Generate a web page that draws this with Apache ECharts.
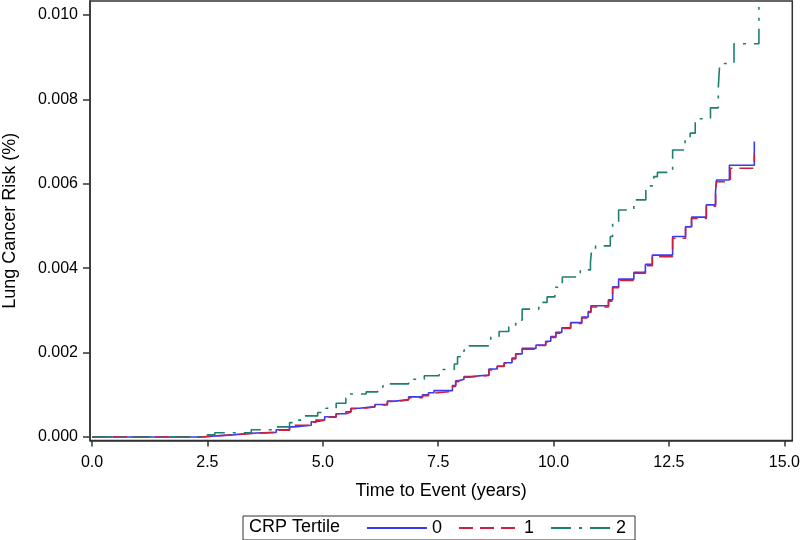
<!DOCTYPE html>
<html>
<head>
<meta charset="utf-8">
<script src="https://cdn.jsdelivr.net/npm/echarts@6/dist/echarts.min.js"></script>
<style>
html,body{margin:0;padding:0;background:#fff;}
#chart{width:800px;height:540px;}
</style>
</head>
<body>
<div id="chart"></div>
<script>
// ---- Data ----
var tertileNames = ['0', '1', '2'];
var legendTitle = 'CRP Tertile';
var xTitle = 'Time to Event (years)';
var yTitle = 'Lung Cancer Risk (%)';
var xTicks = [0, 2.5, 5, 7.5, 10, 12.5, 15];
var yTicks = [0, 0.002, 0.004, 0.006, 0.008, 0.010];

// Tertile 0 (step times in years, cumulative risk)
var times0 = [0, 2.37, 2.6, 3.05, 3.42, 3.99, 4.28, 4.39, 4.75, 4.85, 5.04, 5.29, 5.5, 5.61, 5.79, 6.13, 6.4, 6.58, 6.86, 7.16, 7.29, 7.41, 7.81, 7.88, 7.94, 8.06, 8.2, 8.6, 8.78, 8.93, 9.1, 9.18, 9.32, 9.62, 9.83, 9.94, 10.05, 10.18, 10.37, 10.61, 10.75, 10.81, 11.19, 11.28, 11.41, 11.74, 11.99, 12.14, 12.58, 12.86, 12.99, 13.31, 13.51, 13.53, 13.81, 14.35];
var risk0 = [0, 0.00002, 0.00005, 0.00009, 0.00011, 0.00017, 0.00024, 0.00028, 0.00036, 0.00040, 0.00048, 0.00055, 0.00060, 0.00068, 0.00072, 0.00077, 0.00085, 0.00089, 0.00095, 0.00100, 0.00105, 0.00110, 0.00122, 0.00133, 0.00137, 0.00143, 0.00147, 0.00161, 0.00168, 0.00176, 0.00187, 0.00197, 0.00210, 0.00218, 0.00227, 0.00238, 0.00248, 0.00259, 0.00271, 0.00284, 0.00297, 0.00311, 0.00325, 0.00356, 0.00374, 0.00390, 0.00409, 0.00431, 0.00475, 0.00498, 0.00521, 0.00550, 0.00581, 0.00609, 0.00644, 0.00700];

// Tertile 1
var times1 = [0, 2.37, 2.6, 3.05, 3.42, 3.99, 4.28, 4.39, 4.75, 4.85, 5.04, 5.29, 5.5, 5.61, 5.79, 6.13, 6.4, 6.58, 6.86, 7.16, 7.29, 7.41, 7.81, 7.88, 7.94, 8.06, 8.2, 8.6, 8.78, 8.93, 9.1, 9.18, 9.32, 9.62, 9.83, 9.94, 10.05, 10.18, 10.37, 10.61, 10.75, 10.81, 11.19, 11.28, 11.41, 11.74, 11.99, 12.14, 12.58, 12.86, 12.99, 13.31, 13.51, 13.53, 13.83, 14.35];
var risk1 = [0, 0.00002, 0.00005, 0.00008, 0.00011, 0.00016, 0.00023, 0.00028, 0.00035, 0.00040, 0.00047, 0.00055, 0.00059, 0.00067, 0.00071, 0.00076, 0.00084, 0.00088, 0.00093, 0.00098, 0.00104, 0.00108, 0.00120, 0.00131, 0.00136, 0.00142, 0.00146, 0.00159, 0.00167, 0.00175, 0.00185, 0.00196, 0.00208, 0.00217, 0.00225, 0.00236, 0.00246, 0.00257, 0.00269, 0.00282, 0.00295, 0.00308, 0.00322, 0.00354, 0.00371, 0.00388, 0.00406, 0.00427, 0.00471, 0.00495, 0.00518, 0.00547, 0.00577, 0.00605, 0.00637, 0.00670];

// Tertile 2
var times2 = [0, 2.45, 2.66, 3.45, 3.92, 4.28, 4.39, 4.6, 4.89, 5.07, 5.29, 5.5, 5.58, 5.94, 6.19, 6.3, 6.44, 6.86, 7.2, 7.52, 7.85, 7.92, 8.06, 8.17, 8.64, 8.82, 9.03, 9.18, 9.32, 9.68, 9.86, 10.03, 10.19, 10.58, 10.8, 10.82, 10.91, 11.23, 11.28, 11.41, 11.74, 12.0, 12.17, 12.25, 12.58, 12.85, 12.96, 13.07, 13.4, 13.57, 13.6, 13.91, 14.45];
var risk2 = [0, 0.00005, 0.00010, 0.00017, 0.00024, 0.00034, 0.00040, 0.00050, 0.00058, 0.00068, 0.00080, 0.00092, 0.00102, 0.00107, 0.00114, 0.00121, 0.00126, 0.00137, 0.00145, 0.00160, 0.00173, 0.00190, 0.00206, 0.00216, 0.00238, 0.00250, 0.00261, 0.00277, 0.00303, 0.00319, 0.00332, 0.00355, 0.00379, 0.00396, 0.00415, 0.00438, 0.00453, 0.00475, 0.00509, 0.00538, 0.00562, 0.00595, 0.00617, 0.00627, 0.00680, 0.00704, 0.00720, 0.00754, 0.00780, 0.00829, 0.00885, 0.00932, 0.01019];

function pairs(t, v) {
  var out = [];
  for (var i = 0; i < t.length; i++) out.push([t[i], v[i]]);
  return out;
}

var FONT = '"Liberation Sans", Arial, sans-serif';
var AX = '#333333';

var chart = echarts.init(document.getElementById('chart'), null, {renderer: 'canvas'});
chart.setOption({
  animation: false,
  backgroundColor: '#ffffff',
  grid: {
    left: 90, right: 7.7, top: 1, bottom: 99.5,
    containLabel: false,
    outerBoundsMode: 'none',
    show: true, borderColor: AX, borderWidth: 1.5, backgroundColor: 'transparent'
  },
  xAxis: {
    type: 'value',
    min: -0.0433, max: 15.173,
    name: xTitle,
    nameLocation: 'middle',
    nameGap: 42,
    nameTextStyle: {fontFamily: FONT, fontSize: 18, color: '#000', verticalAlign: 'top'},
    axisLine: {show: true, onZero: false, lineStyle: {color: AX, width: 1.5}},
    axisTick: {show: true, length: 6, inside: false, customValues: xTicks, lineStyle: {color: AX, width: 1.5}},
    axisLabel: {
      customValues: xTicks, margin: 14,
      fontFamily: FONT, fontSize: 16, color: '#000',
      formatter: function (v) { return v.toFixed(1); }
    },
    splitLine: {show: false}
  },
  yAxis: {
    type: 'value',
    min: -0.000083, max: 0.010332,
    name: yTitle,
    nameLocation: 'middle',
    nameGap: 71,
    nameRotate: 90,
    nameTextStyle: {fontFamily: FONT, fontSize: 18, color: '#000'},
    axisLine: {show: true, onZero: false, lineStyle: {color: AX, width: 1.5}},
    axisTick: {show: true, length: 7, inside: false, customValues: yTicks, lineStyle: {color: AX, width: 1.5}},
    axisLabel: {
      customValues: yTicks, margin: 12,
      fontFamily: FONT, fontSize: 16, color: '#000',
      formatter: function (v) { return v.toFixed(3); }
    },
    splitLine: {show: false}
  },
  legend: {
    data: tertileNames,
    left: 243, top: 516,
    padding: [3, 9, 3, 123],
    itemWidth: 60, itemHeight: 14, itemGap: 16,
    borderColor: AX, borderWidth: 1,
    itemStyle: {color: 'transparent', borderColor: 'transparent', borderWidth: 0},
    textStyle: {fontFamily: FONT, fontSize: 18, color: '#000'}
  },
  graphic: [{
    type: 'text',
    left: 249, top: 518,
    style: {text: legendTitle, font: '18px ' + FONT, fill: '#000'}
  }],
  series: [
    {
      name: tertileNames[0], type: 'line', step: 'end', symbol: 'none',
      data: pairs(times0, risk0),
      lineStyle: {color: '#3a3af2', width: 1.6, type: 'solid'},
      itemStyle: {color: '#3a3af2'}
    },
    {
      name: tertileNames[1], type: 'line', step: 'end', symbol: 'none',
      data: pairs(times1, risk1),
      lineStyle: {color: '#cc2040', width: 1.6, type: [14, 7]},
      itemStyle: {color: '#cc2040'}
    },
    {
      name: tertileNames[2], type: 'line', step: 'end', symbol: 'none',
      data: pairs(times2, risk2),
      lineStyle: {color: '#1f7f6e', width: 1.6, type: [20, 8, 3, 8]},
      itemStyle: {color: '#1f7f6e'}
    }
  ]
});
</script>
</body>
</html>
